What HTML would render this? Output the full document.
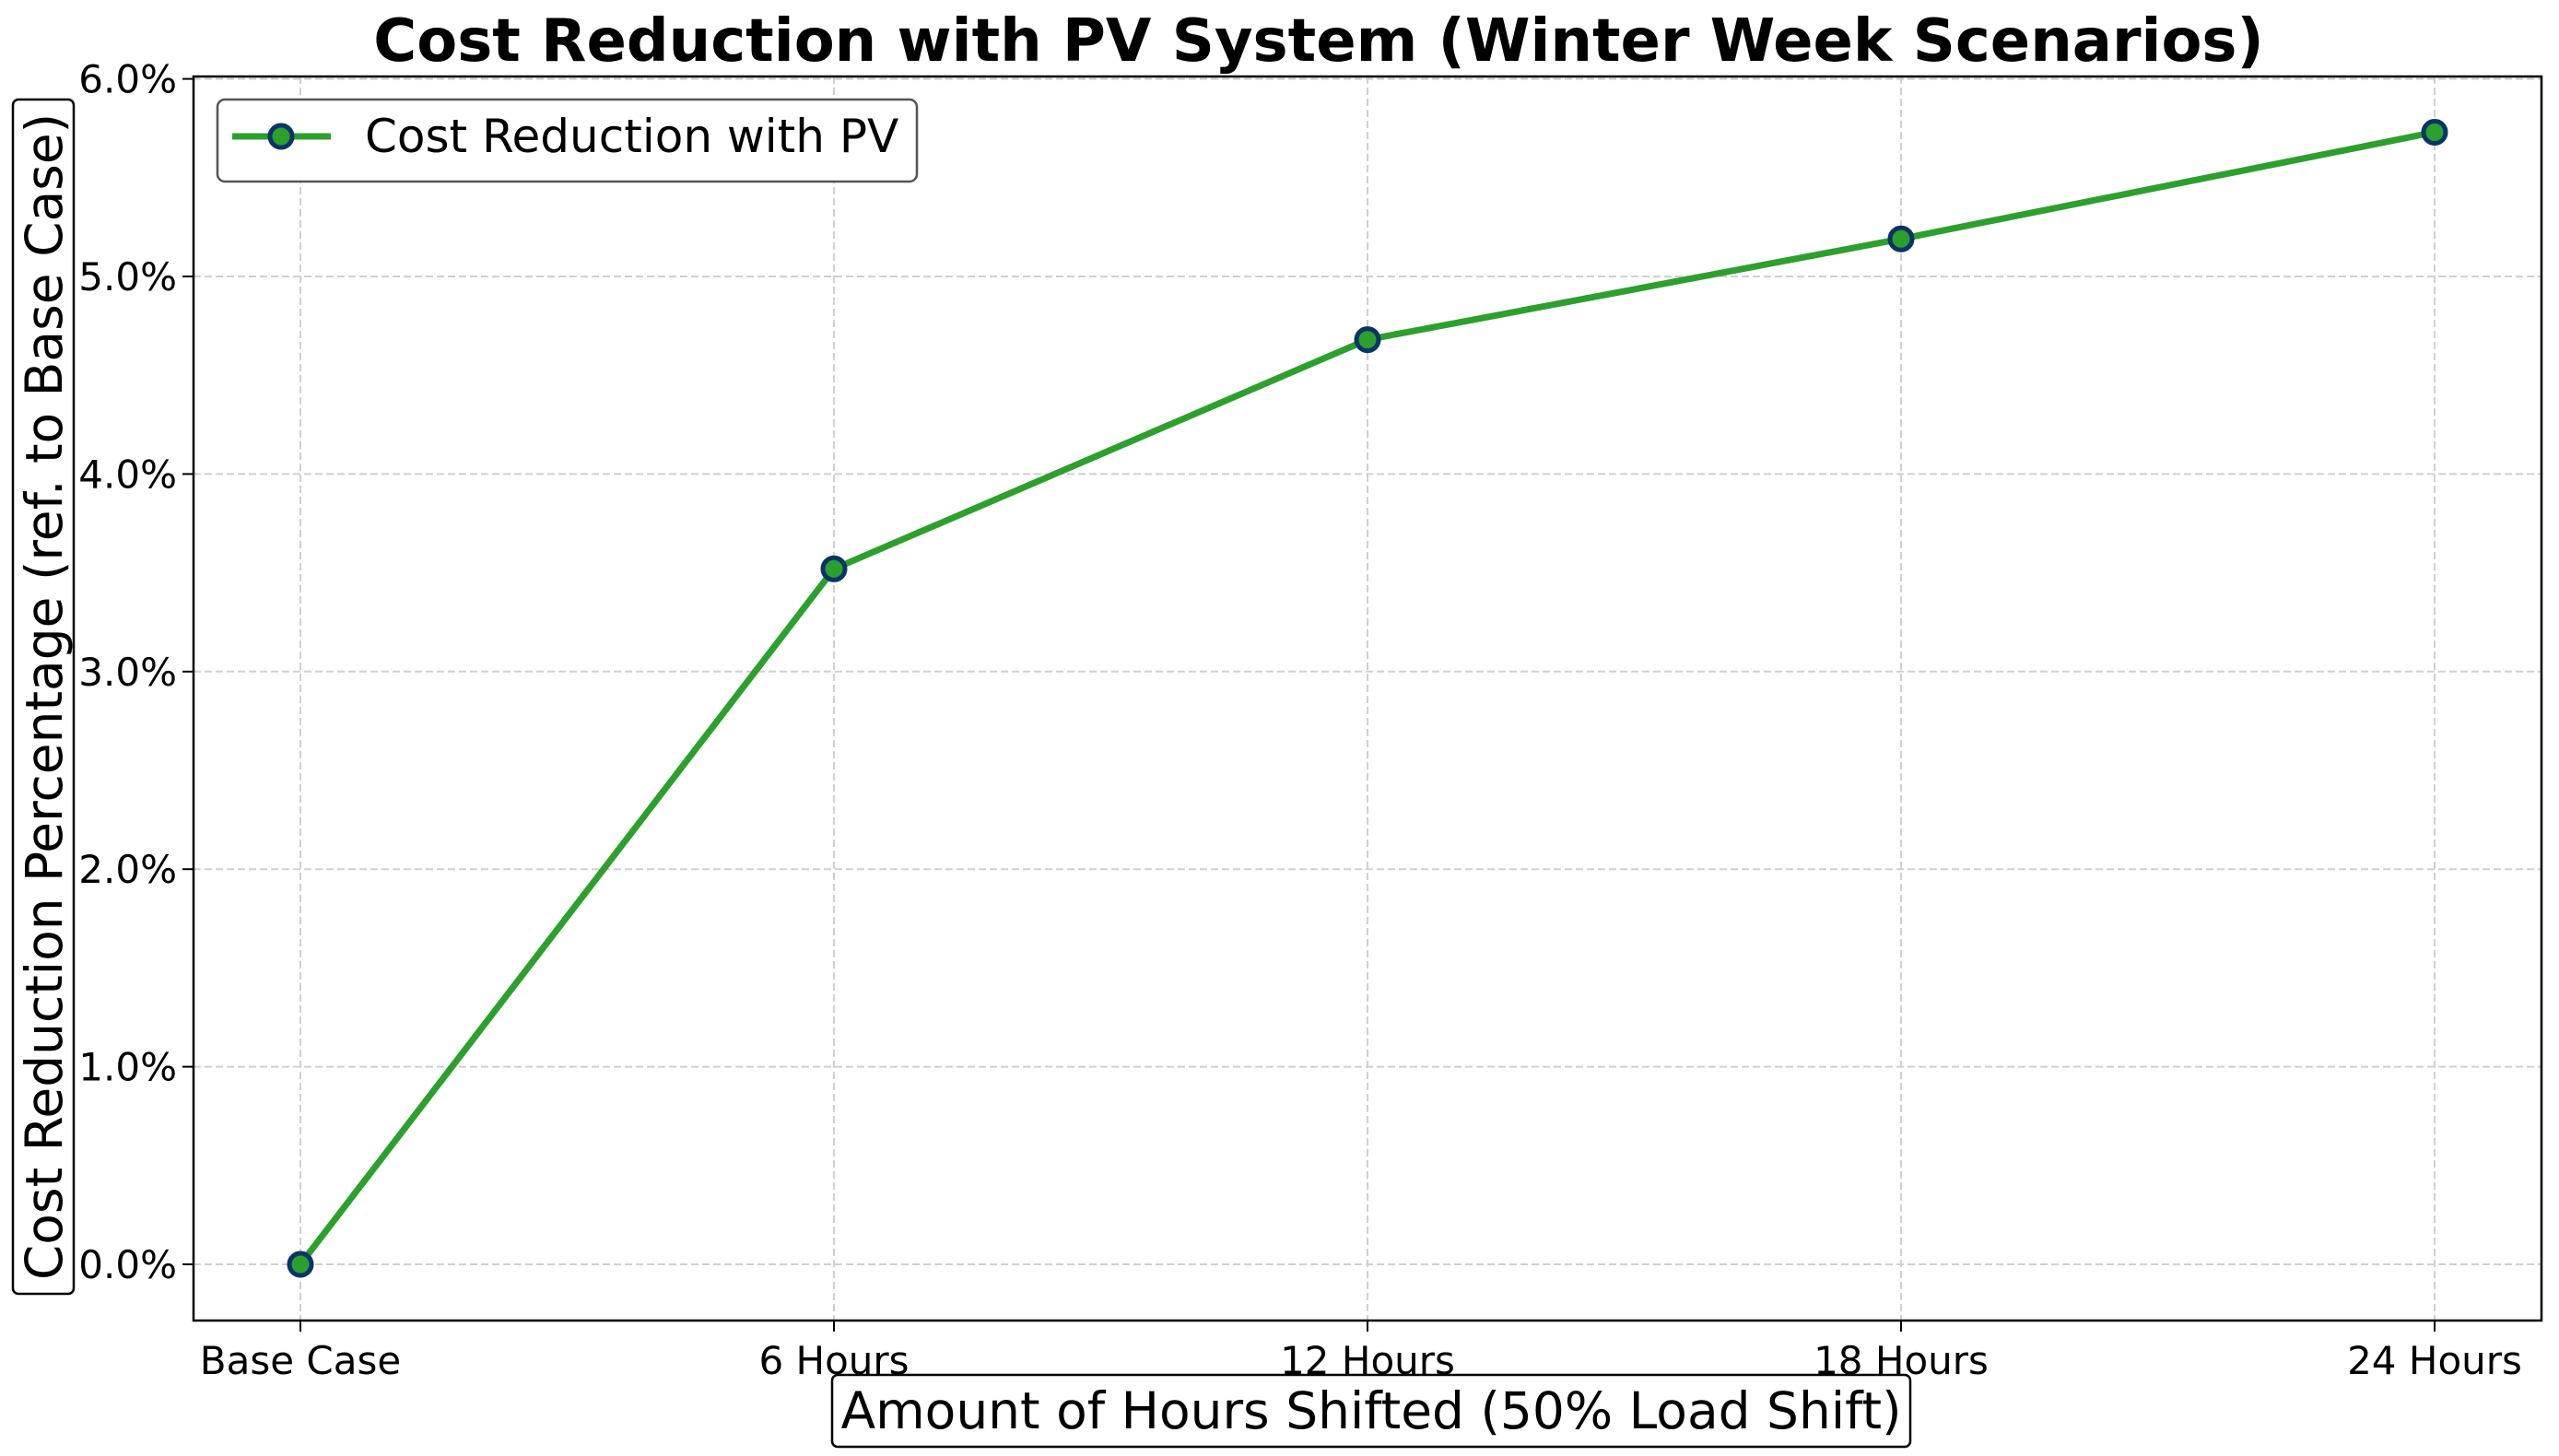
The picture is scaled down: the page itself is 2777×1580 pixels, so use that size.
<!DOCTYPE html>
<html><head><meta charset="utf-8"><style>
html,body{margin:0;padding:0;background:#fff;}
svg{display:block;font-family:"DejaVu Sans","Liberation Sans",sans-serif;}
</style></head><body>
<svg id="chart" width="2777" height="1580" viewBox="0 0 2777 1580">
<text x="1431" y="66" text-anchor="middle" font-size="64" font-weight="bold">Cost Reduction with PV System (Winter Week Scenarios)</text>
<g id="grid"></g>
<g id="axes"></g>
<g id="series"></g>
<g>
<rect x="14" y="108" width="66" height="1296" rx="6" fill="#fff" stroke="#000" stroke-width="2.5"/>
<text transform="translate(67,756) rotate(-90)" text-anchor="middle" font-size="55">Cost Reduction Percentage (ref. to Base Case)</text>
</g>
<g>
<rect x="903" y="1492" width="1170" height="78" rx="6" fill="#fff" stroke="#000" stroke-width="2.5"/>
<text x="1488" y="1550" text-anchor="middle" font-size="55">Amount of Hours Shifted (50% Load Shift)</text>
</g>
<g>
<rect x="236" y="108" width="759" height="89" rx="8" fill="#fff" stroke="#555" stroke-width="2.5"/>
<line x1="252" y1="148" x2="359" y2="148" stroke="#2ca02c" stroke-width="7"/>
<circle cx="305" cy="148" r="12" fill="#2ca02c" stroke="#0a3468" stroke-width="5"/>
<text x="396" y="165" font-size="50">Cost Reduction with PV</text>
</g>
</svg>
<script>
const categories = ["Base Case","6 Hours","12 Hours","18 Hours","24 Hours"];
const values = [0.0, 3.52, 4.68, 5.19, 5.73];
const yTicks = [0,1,2,3,4,5,6];
const yTickLabels = ["0.0%","1.0%","2.0%","3.0%","4.0%","5.0%","6.0%"];

const L=210,R=2758,T=83,B=1433;
const NS="http://www.w3.org/2000/svg";
function xs(i){return 326+i*579;}
function ys(v){return 1372-v*214.4;}
function mk(tag,attrs,parent){const e=document.createElementNS(NS,tag);for(const k in attrs)e.setAttribute(k,attrs[k]);parent.appendChild(e);return e;}
const grid=document.getElementById('grid'),axes=document.getElementById('axes'),series=document.getElementById('series');
yTicks.forEach((t,i)=>{
  const y=ys(t);
  const g=mk('line',{x1:L,x2:R,y1:y,y2:y,stroke:'#d0d0d0','stroke-width':2,'stroke-dasharray':'8,4'},grid);
  
  
  const tk=mk('line',{x1:L-12,x2:L,y1:y,y2:y,stroke:'#000','stroke-width':2},axes);
  
  
  const tx=mk('text',{x:L-18,y:y+15,'text-anchor':'end','font-size':42},axes);
  tx.textContent=yTickLabels[i];
  
  
});
categories.forEach((c,i)=>{
  const x=xs(i);
  const g=mk('line',{x1:x,x2:x,y1:T,y2:B,stroke:'#d0d0d0','stroke-width':2,'stroke-dasharray':'8,4'},grid);
  
  
  const tk=mk('line',{x1:x,x2:x,y1:B,y2:B+12,stroke:'#000','stroke-width':2},axes);
  
  
  const tx=mk('text',{x:x,y:B+58,'text-anchor':'middle','font-size':42},axes);
  tx.textContent=c;
  
  
});
const frame=mk('rect',{x:L,y:T,width:R-L,height:B-T,fill:'none',stroke:'#000','stroke-width':2.5},axes);


const pts=values.map((v,i)=>xs(i)+','+ys(v)).join(' ');
const pl=mk('polyline',{points:pts,fill:'none',stroke:'#2ca02c','stroke-width':7,'stroke-linejoin':'round'},series);


values.forEach((v,i)=>{
  const c=mk('circle',{cx:xs(i),cy:ys(v),r:12,fill:'#2ca02c',stroke:'#0a3468','stroke-width':5},series);
  
  
});
</script>
</body></html>
